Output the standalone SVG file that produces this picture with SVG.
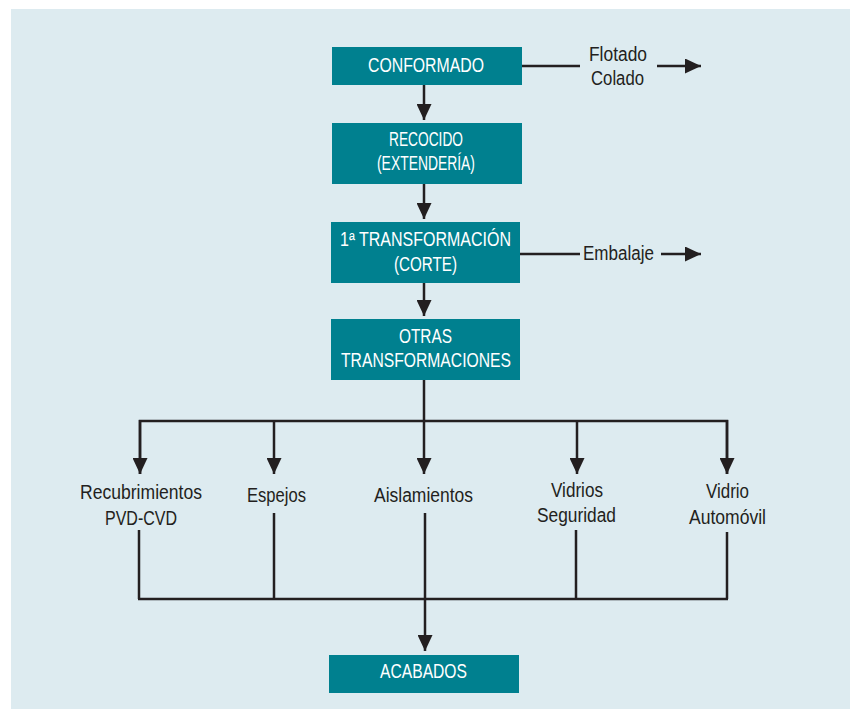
<svg xmlns="http://www.w3.org/2000/svg" width="850" height="709" viewBox="0 0 850 709">
<defs>
<style>
.box{fill:#00808F}
.bt{fill:#ffffff;font-family:"Liberation Sans",Arial,sans-serif;font-size:19.5px;text-anchor:middle}
.lt{fill:#231F20;font-family:"Liberation Sans",Arial,sans-serif;font-size:19.5px;text-anchor:middle}
.ln{stroke:#231F20;stroke-width:2.5;fill:none}
</style>
<marker id="ah" viewBox="0 0 16 15" refX="16" refY="7.5" markerWidth="16" markerHeight="15" markerUnits="userSpaceOnUse" orient="auto">
<path d="M0,0 L16,7.5 L0,15 Z" fill="#231F20"/>
</marker>
</defs>
<rect x="0" y="0" width="850" height="709" fill="#ffffff"/>
<rect x="11" y="9" width="839" height="700" fill="#DDEBF0"/>

<g id="connectors">
<line class="ln" x1="424" y1="85" x2="424" y2="120" marker-end="url(#ah)"/>
<line class="ln" x1="424" y1="184" x2="424" y2="219" marker-end="url(#ah)"/>
<line class="ln" x1="424" y1="283" x2="424" y2="316" marker-end="url(#ah)"/>
<line class="ln" x1="522" y1="66" x2="580" y2="66"/>
<line class="ln" x1="657" y1="66" x2="701" y2="66" marker-end="url(#ah)"/>
<line class="ln" x1="520" y1="254" x2="580" y2="254"/>
<line class="ln" x1="661" y1="254" x2="701" y2="254" marker-end="url(#ah)"/>
<line class="ln" x1="424" y1="380" x2="424" y2="474" marker-end="url(#ah)"/>
<polyline class="ln" points="140,474 140,421 727,421 727,474"/>
<line class="ln" x1="140" y1="420" x2="140" y2="474" marker-end="url(#ah)"/>
<line class="ln" x1="274" y1="421" x2="274" y2="474" marker-end="url(#ah)"/>
<line class="ln" x1="577" y1="421" x2="577" y2="474" marker-end="url(#ah)"/>
<line class="ln" x1="727" y1="420" x2="727" y2="474" marker-end="url(#ah)"/>
<line class="ln" x1="139" y1="530" x2="139" y2="599"/>
<line class="ln" x1="274" y1="513" x2="274" y2="599"/>
<line class="ln" x1="576" y1="530" x2="576" y2="599"/>
<line class="ln" x1="727" y1="532" x2="727" y2="599"/>
<line class="ln" x1="138" y1="599" x2="728" y2="599"/>
<line class="ln" x1="425" y1="513" x2="425" y2="651" marker-end="url(#ah)"/>
</g>

<g id="conformado">
<rect class="box" x="332" y="47" width="190" height="38"/>
<text class="bt" x="426" y="72" textLength="116" lengthAdjust="spacingAndGlyphs">CONFORMADO</text>
</g>
<g id="flotado">
<text class="lt" x="618" y="61" textLength="58" lengthAdjust="spacingAndGlyphs">Flotado</text>
<text class="lt" x="617.5" y="85" textLength="53" lengthAdjust="spacingAndGlyphs">Colado</text>
</g>
<g id="recocido">
<rect class="box" x="332" y="123" width="190" height="61"/>
<text class="bt" x="426" y="146" textLength="74" lengthAdjust="spacingAndGlyphs">RECOCIDO</text>
<text class="bt" x="426" y="170" textLength="98" lengthAdjust="spacingAndGlyphs">(EXTENDERÍA)</text>
</g>
<g id="transformacion1">
<rect class="box" x="331" y="222" width="189" height="61"/>
<text class="bt" x="425.5" y="246" textLength="171" lengthAdjust="spacingAndGlyphs">1ª TRANSFORMACIÓN</text>
<text class="bt" x="425.5" y="271" textLength="63" lengthAdjust="spacingAndGlyphs">(CORTE)</text>
</g>
<g id="embalaje">
<text class="lt" x="618.5" y="260" textLength="71" lengthAdjust="spacingAndGlyphs">Embalaje</text>
</g>
<g id="otras">
<rect class="box" x="331" y="319" width="189" height="61"/>
<text class="bt" x="425.5" y="343" textLength="53" lengthAdjust="spacingAndGlyphs">OTRAS</text>
<text class="bt" x="426" y="367" textLength="170" lengthAdjust="spacingAndGlyphs">TRANSFORMACIONES</text>
</g>
<g id="recubrimientos">
<text class="lt" x="141" y="499" textLength="122" lengthAdjust="spacingAndGlyphs">Recubrimientos</text>
<text class="lt" x="141" y="525" textLength="72" lengthAdjust="spacingAndGlyphs">PVD-CVD</text>
</g>
<g id="espejos">
<text class="lt" x="276.5" y="502" textLength="59" lengthAdjust="spacingAndGlyphs">Espejos</text>
</g>
<g id="aislamientos">
<text class="lt" x="423.5" y="502" textLength="99" lengthAdjust="spacingAndGlyphs">Aislamientos</text>
</g>
<g id="vidrios">
<text class="lt" x="577" y="497" textLength="52" lengthAdjust="spacingAndGlyphs">Vidrios</text>
<text class="lt" x="576.5" y="522" textLength="79" lengthAdjust="spacingAndGlyphs">Seguridad</text>
</g>
<g id="vidrio">
<text class="lt" x="727.5" y="498" textLength="43" lengthAdjust="spacingAndGlyphs">Vidrio</text>
<text class="lt" x="727.5" y="524" textLength="77" lengthAdjust="spacingAndGlyphs">Automóvil</text>
</g>
<g id="acabados">
<rect class="box" x="329" y="655" width="190" height="38"/>
<text class="bt" x="423.5" y="678" textLength="87" lengthAdjust="spacingAndGlyphs">ACABADOS</text>
</g>
</svg>
